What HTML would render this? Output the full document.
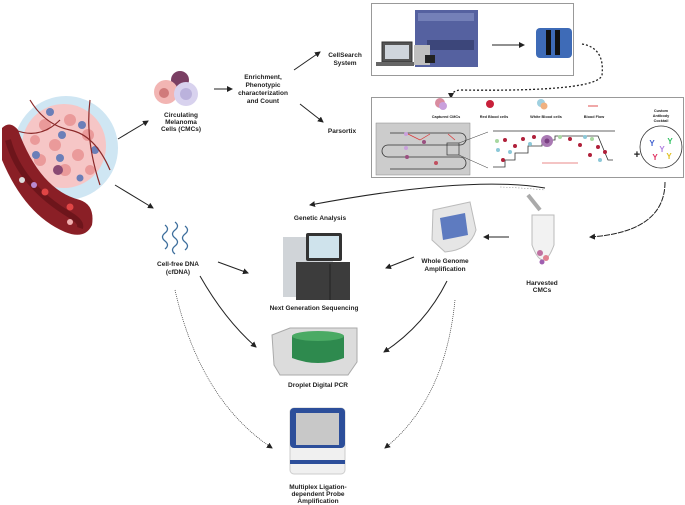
<!DOCTYPE html>
<html><head><meta charset="utf-8"><style>
html,body{margin:0;padding:0;background:#fff;}
svg{display:block}
text{font-family:"Liberation Sans",sans-serif;font-weight:bold;fill:#222;font-size:6.5px;text-anchor:middle}
g.s text{font-size:3.8px}
</style></head><body>
<svg width="685" height="505" viewBox="0 0 685 505" xmlns="http://www.w3.org/2000/svg">
<defs>
<marker id="a" markerWidth="6" markerHeight="6" refX="5" refY="3" orient="auto" markerUnits="userSpaceOnUse"><path d="M0,0 L6,3 L0,6 Z" fill="#222"/></marker>
</defs>
<!-- tumor -->
<circle cx="66" cy="148" r="52" fill="#cfe6f3"/>
<circle cx="64" cy="146" r="42" fill="#f6c6c6"/>
<g fill="#ea9a9a">
<circle cx="45" cy="125" r="6"/><circle cx="70" cy="120" r="6"/><circle cx="88" cy="135" r="6"/><circle cx="55" cy="145" r="6"/><circle cx="78" cy="155" r="6"/><circle cx="40" cy="160" r="6"/><circle cx="65" cy="170" r="6"/><circle cx="90" cy="170" r="5"/><circle cx="35" cy="140" r="5"/>
</g>
<g fill="#6b7fb8">
<circle cx="50" cy="112" r="4"/><circle cx="82" cy="125" r="4"/><circle cx="62" cy="135" r="4"/><circle cx="36" cy="155" r="4"/><circle cx="95" cy="150" r="4"/><circle cx="60" cy="158" r="4"/><circle cx="80" cy="178" r="3.5"/>
</g>
<circle cx="58" cy="170" r="5" fill="#8a4a73"/>
<g stroke="#8b2a2a" stroke-width="1.2" fill="none">
<path d="M30,100 Q45,125 70,130 T110,170"/><path d="M90,100 Q85,140 100,185"/><path d="M15,130 Q40,140 60,120"/>
</g>
<path d="M2,128 Q10,120 18,130 Q40,190 80,200 Q95,205 92,225 Q85,240 65,232 Q25,215 2,160 Z" fill="#8a1f26"/>
<path d="M8,140 Q20,185 70,215 Q82,222 80,228" stroke="#5a0f14" stroke-width="6" fill="none" opacity="0.6"/>
<circle cx="22" cy="180" r="3" fill="#ddd"/><circle cx="34" cy="185" r="3" fill="#b98ad0"/><circle cx="45" cy="192" r="3.5" fill="#e04545"/><circle cx="70" cy="207" r="3.5" fill="#e04545"/><circle cx="70" cy="222" r="3" fill="#f0b0b0"/>
<!-- CMC cells -->
<circle cx="180" cy="80" r="9" fill="#7a3f63"/>
<circle cx="166" cy="92" r="12" fill="#f2b5b3"/>
<circle cx="164" cy="93" r="5" fill="#d07a7a"/>
<circle cx="186" cy="94" r="12" fill="#d8d2ee"/>
<circle cx="186" cy="94" r="6" fill="#bbb2dc"/>
<text x="181" y="117">Circulating</text><text x="181" y="124">Melanoma</text><text x="181" y="131">Cells (CMCs)</text>
<line x1="118" y1="139" x2="148" y2="121" stroke="#222" marker-end="url(#a)"/>
<line x1="214" y1="89" x2="232" y2="89" stroke="#222" marker-end="url(#a)"/>
<text x="263" y="79">Enrichment,</text><text x="263" y="87">Phenotypic</text><text x="263" y="95">characterization</text><text x="263" y="103">and Count</text>
<line x1="294" y1="70" x2="320" y2="52" stroke="#222" marker-end="url(#a)"/>
<text x="345" y="57">CellSearch</text><text x="345" y="65">System</text>
<line x1="300" y1="104" x2="323" y2="122" stroke="#222" marker-end="url(#a)"/>
<text x="342" y="133">Parsortix</text>
<!-- box1 -->
<rect x="371.5" y="3.5" width="202" height="72" fill="#fff" stroke="#999"/>
<rect x="382" y="42" width="30" height="20" fill="#555" stroke="#333"/><rect x="385" y="45" width="24" height="14" fill="#cfd5dc"/>
<rect x="376" y="62" width="38" height="4" fill="#666"/>
<rect x="415" y="10" width="63" height="57" fill="#5561a0"/>
<rect x="418" y="13" width="56" height="8" fill="#7480b8"/>
<rect x="427" y="40" width="47" height="10" fill="#3c467a"/>
<rect x="414" y="45" width="16" height="20" fill="#bfbfbf"/><rect x="425" y="55" width="10" height="8" fill="#222"/>
<line x1="492" y1="45" x2="524" y2="45" stroke="#222" marker-end="url(#a)"/>
<rect x="536" y="28" width="36" height="30" rx="4" fill="#3e6bb7"/>
<rect x="546" y="30" width="5" height="25" fill="#111"/><rect x="555" y="30" width="5" height="25" fill="#111"/>
<path d="M582,44 Q605,48 602,75 Q598,92 460,90 Q451,91 451,98" stroke="#222" stroke-width="1.3" stroke-dasharray="2,2" fill="none" marker-end="url(#a)"/>
<!-- box2 -->
<rect x="371.5" y="97.5" width="312" height="80" fill="#fff" stroke="#999"/>
<circle cx="440" cy="103" r="5" fill="#d98ca0"/><circle cx="443" cy="106" r="4" fill="#c9a0dc"/>
<circle cx="490" cy="104" r="4" fill="#c8203a"/>
<circle cx="541" cy="103" r="4" fill="#9fd0e0"/><circle cx="544" cy="106" r="3.5" fill="#f0b080"/>
<line x1="588" y1="106" x2="598" y2="106" stroke="#e05050"/>
<g class="s"><text x="446" y="118">Captured CMCs</text><text x="494" y="118">Red Blood cells</text><text x="546" y="118">White Blood cells</text><text x="594" y="118">Blood Flow</text>
<text x="661" y="112">Custom</text><text x="661" y="117">Antibody</text><text x="661" y="122">Cocktail</text></g>
<rect x="376" y="123" width="94" height="52" fill="#ccc" stroke="#888" stroke-width="0.5"/>
<path d="M390,133 H460 A6,6 0 0 1 460,145 H388 A6,6 0 0 0 388,157 H460 A6,6 0 0 1 460,169 H390" stroke="#333" fill="none" stroke-width="0.8"/>
<path d="M408,134 L420,140 L430,134 M448,134 L455,140" stroke="#d33" fill="none" stroke-width="0.7"/>
<circle cx="406" cy="134" r="2" fill="#c9a0dc"/><circle cx="424" cy="142" r="2" fill="#9a5080"/><circle cx="407" cy="157" r="2" fill="#9a5080"/><circle cx="436" cy="163" r="2" fill="#c05060"/><circle cx="406" cy="148" r="2" fill="#c9a0dc"/>
<rect x="447" y="143" width="12" height="12" fill="none" stroke="#333" stroke-width="0.7"/>
<line x1="459" y1="143" x2="488" y2="132" stroke="#333" stroke-width="0.5"/><line x1="459" y1="155" x2="488" y2="168" stroke="#333" stroke-width="0.5"/>
<line x1="493" y1="131" x2="615" y2="131" stroke="#333" stroke-width="0.8"/>
<path d="M493,167 H505 V160 H515 V153 H528 V146 H542 V140 H555 V136 H598 L608,160 H613" stroke="#333" fill="none" stroke-width="0.8"/>
<g fill="#b0203a"><circle cx="505" cy="140" r="2"/><circle cx="515" cy="146" r="2"/><circle cx="503" cy="160" r="2"/><circle cx="523" cy="139" r="2"/><circle cx="570" cy="139" r="2"/><circle cx="580" cy="145" r="2"/><circle cx="598" cy="147" r="2"/><circle cx="605" cy="152" r="2"/><circle cx="590" cy="155" r="2"/><circle cx="534" cy="137" r="2"/></g>
<g fill="#8cc8d8"><circle cx="498" cy="150" r="2"/><circle cx="510" cy="152" r="2"/><circle cx="530" cy="144" r="2"/><circle cx="585" cy="137" r="2"/><circle cx="600" cy="160" r="2"/></g>
<g fill="#a8d8a0"><circle cx="497" cy="141" r="2"/><circle cx="560" cy="137" r="2"/><circle cx="592" cy="139" r="2"/></g>
<circle cx="547" cy="141" r="6" fill="#a979b3"/><circle cx="547" cy="141" r="2.5" fill="#7a3f83"/>
<line x1="542" y1="163" x2="578" y2="163" stroke="#e06060" stroke-width="0.8"/>
<text x="637" y="158" style="font-size:11px">+</text>
<circle cx="661" cy="147" r="21" fill="#fff" stroke="#333" stroke-width="0.8"/>
<text x="652" y="146" style="fill:#4060d0;font-size:8px">Y</text><text x="670" y="144" style="fill:#30c060;font-size:8px">Y</text><text x="662" y="152" style="fill:#b080e0;font-size:8px">Y</text><text x="655" y="160" style="fill:#e03060;font-size:8px">Y</text><text x="669" y="159" style="fill:#e0c020;font-size:8px">Y</text>
<!-- long curve to genetic analysis -->
<path d="M545,188 Q470,175 310,205" stroke="#222" stroke-width="1" fill="none" marker-end="url(#a)"/>
<path d="M500,187 Q525,188 545,190" stroke="#999" stroke-width="0.6" stroke-dasharray="1.5,1.5" fill="none"/>
<text x="320" y="220">Genetic Analysis</text>
<path d="M665,182 Q665,232 590,237" stroke="#222" fill="none" stroke-dasharray="6,1" marker-end="url(#a)"/>
<!-- tube -->
<path d="M528,195 L540,210" stroke="#aaa" stroke-width="4"/>
<path d="M532,215 H554 V245 Q543,275 532,245 Z" fill="#f2f2f2" stroke="#bbb"/>
<circle cx="540" cy="253" r="3" fill="#c070a0"/><circle cx="546" cy="258" r="3" fill="#e08090"/><circle cx="542" cy="262" r="2.5" fill="#a060b0"/>
<text x="542" y="285">Harvested</text><text x="542" y="292">CMCs</text>
<line x1="509" y1="237" x2="484" y2="237" stroke="#222" marker-end="url(#a)"/>
<!-- PCR -->
<path d="M433,210 L470,202 L476,230 Q470,250 445,252 L432,240 Z" fill="#e6e6e6" stroke="#bbb"/>
<path d="M440,218 L465,213 L468,235 L443,240 Z" fill="#5e7bc0"/>
<text x="445" y="263">Whole Genome</text><text x="445" y="271">Amplification</text>
<!-- DNA -->
<path d="M165,225 q5,4 0,8 q-5,4 0,8 q5,4 0,8 M175,222 q5,4 0,8 q-5,4 0,8 q5,4 0,8 q-5,4 0,8 M185,226 q5,4 0,8 q-5,4 0,8 q5,4 0,8" stroke="#3d6e9c" stroke-width="1.3" fill="none"/>
<text x="178" y="266">Cell-free DNA</text><text x="178" y="274">(cfDNA)</text>
<!-- NGS -->
<rect x="283" y="237" width="50" height="60" fill="#d0d4d8"/>
<rect x="306" y="233" width="36" height="28" rx="2" fill="#333"/><rect x="309" y="236" width="30" height="22" fill="#cfe3ec"/>
<rect x="296" y="262" width="54" height="38" fill="#3c3c3c"/>
<line x1="330" y1="264" x2="330" y2="300" stroke="#222"/>
<text x="314" y="310">Next Generation Sequencing</text>
<line x1="218" y1="262" x2="248" y2="273" stroke="#222" marker-end="url(#a)"/>
<line x1="414" y1="257" x2="386" y2="268" stroke="#222" marker-end="url(#a)"/>
<!-- ddPCR -->
<path d="M272,335 L290,328 H357 V362 L348,375 H280 L274,365 Z" fill="#dcdcdc" stroke="#aaa"/>
<path d="M292,336 H344 V358 Q318,368 292,358 Z" fill="#2e8a4e"/>
<ellipse cx="318" cy="336" rx="26" ry="5" fill="#4aaa64"/>
<text x="318" y="387">Droplet Digital PCR</text>
<path d="M200,276 Q225,320 256,347" stroke="#222" fill="none" marker-end="url(#a)"/>
<path d="M447,281 Q425,325 384,352" stroke="#222" fill="none" marker-end="url(#a)"/>
<!-- MLPA -->
<rect x="290" y="408" width="55" height="66" rx="4" fill="#f0f0f0" stroke="#ccc"/>
<rect x="290" y="408" width="55" height="40" rx="4" fill="#2c4e9a"/>
<rect x="296" y="413" width="43" height="32" fill="#c8c8c8"/>
<rect x="290" y="460" width="55" height="4" fill="#2c4e9a"/>
<text x="318" y="489">Multiplex Ligation-</text><text x="318" y="496">dependent Probe</text><text x="318" y="503">Amplification</text>
<path d="M175,290 Q200,400 272,448" stroke="#333" stroke-width="0.7" stroke-dasharray="1,1" fill="none" marker-end="url(#a)"/>
<path d="M455,300 Q445,400 385,448" stroke="#333" stroke-width="0.7" stroke-dasharray="1,1" fill="none" marker-end="url(#a)"/>
<line x1="115" y1="185" x2="153" y2="208" stroke="#222" marker-end="url(#a)"/>
</svg>
</body></html>
